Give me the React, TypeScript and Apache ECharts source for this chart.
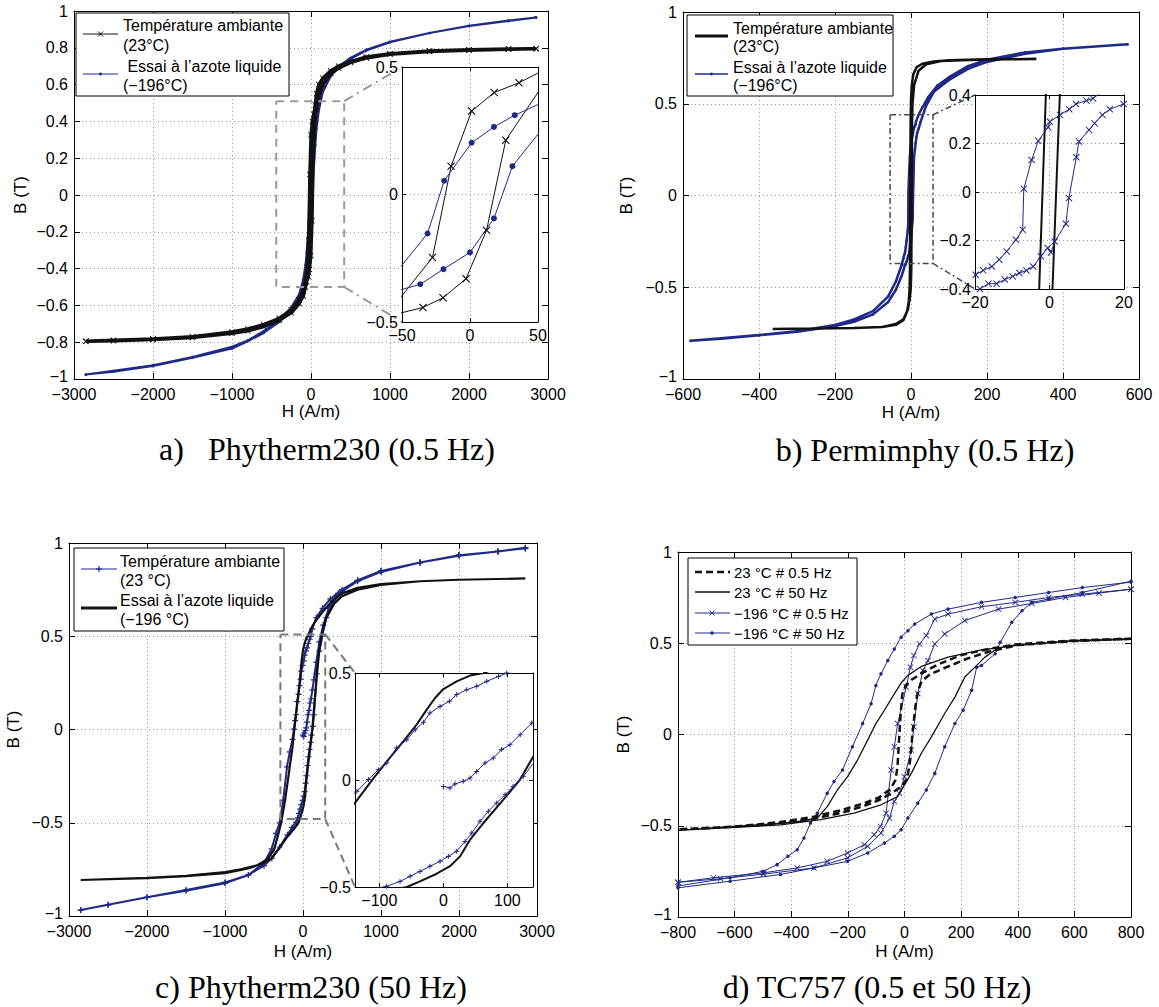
import React, { useEffect, useRef } from 'react';
import * as echarts from 'echarts';

type P = [number, number];

// ---------------- a) Phytherm230 (0.5 Hz) ----------------
const aAmbDown: P[] = [[2850,0.795],[2500,0.793],[2000,0.789],[1500,0.782],[1000,0.768],[700,0.75],[500,0.725],[350,0.7],[250,0.675],[150,0.635],[100,0.6],[70,0.55],[55,0.49],[36,0.438],[17.8,0.4],[1.2,0.327],[-13.9,0.111],[-27.6,-0.247],[-55,-0.43],[-70,-0.47],[-100,-0.52],[-150,-0.57],[-250,-0.625],[-400,-0.67],[-600,-0.705],[-800,-0.728],[-1000,-0.745],[-1500,-0.77],[-2000,-0.783],[-2500,-0.79],[-2850,-0.795]];
const aAmbUp: P[] = [[-2850,-0.795],[-2500,-0.792],[-2000,-0.786],[-1500,-0.775],[-1000,-0.752],[-800,-0.738],[-600,-0.715],[-400,-0.68],[-250,-0.64],[-150,-0.59],[-100,-0.55],[-70,-0.5],[-55,-0.47],[-34.6,-0.443],[-19.8,-0.405],[-2.9,-0.33],[12.2,-0.14],[26.3,0.213],[55,0.44],[70,0.48],[100,0.54],[150,0.6],[250,0.66],[350,0.69],[500,0.72],[700,0.745],[1000,0.765],[1500,0.78],[2000,0.787],[2500,0.792],[2850,0.795]];
const aAzoteDown: P[] = [[2850,0.965],[2500,0.948],[2000,0.92],[1500,0.88],[1000,0.833],[700,0.79],[500,0.745],[350,0.7],[250,0.655],[150,0.59],[100,0.51],[70,0.42],[55,0.365],[32.9,0.311],[17.6,0.265],[1.2,0.203],[-19,0.054],[-31.2,-0.153],[-55,-0.31],[-70,-0.38],[-100,-0.46],[-150,-0.54],[-250,-0.61],[-400,-0.68],[-600,-0.74],[-800,-0.79],[-1000,-0.825],[-1500,-0.88],[-2000,-0.925],[-2500,-0.955],[-2850,-0.975]];
const aAzoteUp: P[] = [[-2850,-0.978],[-2500,-0.96],[-2000,-0.93],[-1500,-0.885],[-1000,-0.835],[-800,-0.795],[-600,-0.75],[-400,-0.69],[-250,-0.625],[-150,-0.56],[-100,-0.5],[-70,-0.43],[-55,-0.38],[-36.6,-0.352],[-19.5,-0.293],[0,-0.227],[17.6,-0.094],[31.2,0.111],[55,0.27],[70,0.36],[100,0.46],[150,0.56],[250,0.645],[350,0.695],[500,0.74],[700,0.785],[1000,0.83],[1500,0.88],[2000,0.918],[2500,0.945],[2850,0.965]];

// ---------------- b) Permimphy (0.5 Hz) ----------------
const bAmbDown: P[] = [[330,0.744],[200,0.742],[100,0.737],[60,0.73],[30,0.718],[15,0.7],[6,0.66],[2,0.6],[0,0.52],[-0.98,0.4],[-2.77,-0.4],[-3.5,-0.5],[-6,-0.58],[-10,-0.63],[-20,-0.675],[-40,-0.7],[-76,-0.717],[-150,-0.722],[-250,-0.725],[-364,-0.727]];
const bAmbUp: P[] = [[-364,-0.727],[-250,-0.725],[-150,-0.722],[-76,-0.717],[-40,-0.705],[-20,-0.68],[-8,-0.62],[-3,-0.56],[-0.5,-0.5],[0.8,-0.4],[2.77,0.4],[4,0.5],[8,0.6],[20,0.68],[40,0.715],[79,0.733],[150,0.738],[250,0.742],[330,0.744]];
const bAzoteDown: P[] = [[570,0.824],[400,0.8],[300,0.78],[200,0.74],[150,0.705],[100,0.645],[70,0.6],[45,0.535],[30,0.48],[20,0.44],[13.3,0.404],[11.7,0.386],[9.9,0.377],[7.1,0.363],[5.3,0.341],[2.8,0.318],[0.1,0.29],[-0.4,0.267],[-3,0.211],[-4.8,0.132],[-6.9,0.013],[-7.2,-0.156],[-9,-0.197],[-11.5,-0.245],[-13.5,-0.279],[-15.5,-0.307],[-17.8,-0.323],[-19.8,-0.341],[-25,-0.38],[-40,-0.47],[-60,-0.55],[-100,-0.63],[-150,-0.675],[-200,-0.705],[-300,-0.74],[-400,-0.76],[-500,-0.778],[-580,-0.792]];
const bAzoteUp: P[] = [[-580,-0.792],[-500,-0.78],[-400,-0.762],[-300,-0.742],[-200,-0.712],[-150,-0.688],[-100,-0.648],[-60,-0.58],[-40,-0.515],[-25,-0.44],[-18.7,-0.4],[-16.4,-0.378],[-14.2,-0.378],[-12,-0.361],[-9.9,-0.348],[-8.1,-0.334],[-6.2,-0.324],[-4.4,-0.307],[-2.3,-0.265],[-0.5,-0.231],[0.4,-0.249],[1.4,-0.204],[4.4,-0.131],[5.2,-0.025],[7.2,0.143],[7.9,0.208],[10.6,0.256],[12.1,0.283],[14.2,0.318],[16.2,0.341],[19.9,0.363],[25,0.4],[40,0.49],[60,0.565],[100,0.63],[150,0.69],[200,0.728],[300,0.772],[400,0.8],[570,0.824]];

// ---------------- c) Phytherm230 (50 Hz) ----------------
const cAzoteDown: P[] = [[2850,0.81],[2000,0.803],[1500,0.795],[1000,0.78],[700,0.76],[500,0.73],[385,0.694],[250,0.63],[150,0.575],[100,0.54],[62.5,0.5],[41.7,0.488],[20.8,0.461],[0,0.425],[-13,0.383],[-26,0.329],[-41.7,0.259],[-62.5,0.181],[-86,0.095],[-109,0.009],[-138,-0.107],[-170,-0.2],[-230,-0.38],[-280,-0.5],[-314,-0.557],[-372,-0.646],[-466,-0.7],[-600,-0.73],[-800,-0.75],[-1000,-0.765],[-1500,-0.785],[-2000,-0.795],[-2850,-0.807]];
const cAzoteUp: P[] = [[-2850,-0.807],[-2000,-0.797],[-1500,-0.787],[-1000,-0.77],[-700,-0.745],[-500,-0.715],[-400,-0.69],[-300,-0.635],[-200,-0.575],[-120,-0.535],[-57,-0.5],[-36.5,-0.474],[-10.4,-0.438],[10.4,-0.403],[26,-0.357],[41.7,-0.279],[62.5,-0.201],[93.8,-0.092],[119.8,0.002],[140.6,0.111],[170,0.25],[200,0.4],[250,0.53],[300,0.6],[400,0.675],[500,0.715],[700,0.75],[1000,0.775],[1500,0.795],[2000,0.803],[2850,0.81]];
const cAmbInit: P[] = [[0,-0.03],[10.4,-0.037],[18,-0.019],[31,-0.006],[41.7,0.009],[52,0.04],[65,0.079],[78,0.103],[91,0.142],[104,0.165],[120,0.212],[138,0.266],[170,0.36],[210,0.47],[260,0.56],[330,0.65],[450,0.73],[700,0.8],[1000,0.85],[1500,0.895],[2000,0.935],[2500,0.955],[2850,0.972]];
const cAmbDown: P[] = [[2850,0.97],[2500,0.955],[2000,0.935],[1500,0.895],[1000,0.848],[700,0.8],[500,0.75],[350,0.7],[250,0.65],[170,0.6],[120,0.54],[99,0.5],[86,0.484],[67.7,0.461],[52,0.438],[36.5,0.422],[20.8,0.399],[9.4,0.368],[-5.2,0.344],[-21,0.313],[-31,0.27],[-44,0.235],[-57,0.188],[-73,0.15],[-88.5,0.079],[-101.6,0.048],[-117,0.002],[-135,-0.053],[-170,-0.12],[-205,-0.2],[-254,-0.38],[-300,-0.5],[-346,-0.557],[-400,-0.64],[-500,-0.715],[-700,-0.78],[-1000,-0.825],[-1500,-0.865],[-2000,-0.9],[-2500,-0.94],[-2850,-0.968]];
const cAmbUp: P[] = [[-2850,-0.968],[-2500,-0.94],[-2000,-0.9],[-1500,-0.86],[-1000,-0.82],[-700,-0.78],[-500,-0.73],[-400,-0.69],[-300,-0.63],[-200,-0.565],[-140,-0.525],[-88.5,-0.497],[-67.7,-0.474],[-52,-0.45],[-36.5,-0.427],[-21,-0.403],[-5.2,-0.38],[7.8,-0.357],[20.8,-0.333],[33.9,-0.287],[44.3,-0.248],[57.3,-0.193],[70.3,-0.146],[83.3,-0.107],[96.4,-0.069],[109,-0.03],[125,0.017],[140.6,0.079],[175,0.3],[210,0.42],[246,0.5],[300,0.6],[400,0.69],[500,0.74],[700,0.795],[1000,0.845],[1500,0.895],[2000,0.932],[2500,0.955],[2850,0.975]];

// ---------------- d) TC757 (0.5 et 50 Hz) ----------------
const dAmb05Down: P[] = [[800,0.525],[600,0.515],[400,0.495],[300,0.47],[200,0.435],[120,0.385],[60,0.335],[25,0.3],[5,0.27],[-8,0.22],[-14,0.1],[-20,-0.05],[-25,-0.18],[-32,-0.25],[-50,-0.3],[-90,-0.345],[-150,-0.38],[-225,-0.415],[-320,-0.45],[-440,-0.48],[-600,-0.505],[-800,-0.52]];
const dAmb05Up: P[] = [[-800,-0.52],[-600,-0.505],[-440,-0.485],[-320,-0.462],[-225,-0.43],[-150,-0.395],[-90,-0.36],[-45,-0.32],[-10,-0.285],[10,-0.24],[20,-0.14],[28,0],[38,0.15],[48,0.24],[60,0.29],[90,0.33],[150,0.37],[220,0.415],[300,0.455],[400,0.49],[600,0.512],[800,0.525]];
const dAmb50Down: P[] = [[800,0.522],[600,0.515],[391,0.487],[272,0.464],[154,0.424],[59,0.373],[12,0.324],[-12,0.282],[-35.5,0.224],[-71,0.133],[-101,0.06],[-130,-0.031],[-166,-0.14],[-201,-0.231],[-237,-0.304],[-273,-0.395],[-308,-0.458],[-370,-0.475],[-438,-0.487],[-616,-0.505],[-800,-0.525]];
const dAmb50Up: P[] = [[-800,-0.525],[-616,-0.51],[-438,-0.495],[-296,-0.467],[-178,-0.431],[-83,-0.385],[-24,-0.34],[0,-0.276],[24,-0.213],[59,-0.104],[95,-0.013],[142,0.115],[178,0.205],[213,0.315],[249,0.369],[284,0.424],[332,0.475],[391,0.491],[600,0.512],[800,0.522]];
const dAz05Down: P[] = [[800,0.796],[628,0.769],[509,0.751],[391,0.724],[272,0.7],[154,0.66],[107,0.633],[77,0.542],[53,0.496],[33,0.433],[21,0.369],[6,0.26],[-24,0.06],[-36,-0.067],[-47,-0.195],[-57,-0.322],[-65,-0.431],[-85,-0.504],[-107,-0.549],[-142,-0.604],[-201,-0.649],[-273,-0.695],[-379,-0.731],[-498,-0.758],[-675,-0.785],[-800,-0.81]];
const dAz05Up: P[] = [[-800,-0.81],[-650,-0.79],[-498,-0.765],[-320,-0.731],[-201,-0.676],[-130,-0.613],[-83,-0.54],[-53,-0.458],[-36,-0.367],[-18,-0.322],[0,-0.231],[24,-0.085],[33,0.042],[47,0.224],[65,0.351],[83,0.405],[107,0.496],[142,0.551],[213,0.624],[332,0.687],[450,0.718],[569,0.751],[687,0.775],[800,0.796]];
const dAz50Down: P[] = [[800,0.835],[628,0.805],[509,0.778],[391,0.751],[272,0.724],[154,0.687],[95,0.66],[36,0.605],[12,0.569],[-12,0.533],[-36,0.469],[-59,0.405],[-83,0.333],[-101,0.269],[-118,0.169],[-148,0.06],[-184,-0.067],[-219,-0.195],[-249,-0.258],[-273,-0.322],[-308,-0.431],[-332,-0.485],[-355,-0.567],[-379,-0.631],[-412,-0.667],[-450,-0.713],[-498,-0.749],[-616,-0.785],[-800,-0.83]];
const dAz50Up: P[] = [[-800,-0.84],[-616,-0.804],[-438,-0.767],[-320,-0.731],[-201,-0.695],[-130,-0.649],[-71,-0.595],[-36,-0.558],[-12,-0.522],[12,-0.458],[47,-0.376],[77,-0.304],[107,-0.213],[142,-0.067],[178,0.06],[207,0.133],[237,0.242],[255,0.369],[272,0.378],[320,0.442],[338,0.505],[379,0.615],[415,0.678],[450,0.724],[509,0.742],[628,0.778],[800,0.84]];

// axis ranges [min, max, interval]
const rangeMainA = { x: [-3000, 3000, 1000], y: [-1, 1, 0.2] };
const rangeMainB = { x: [-600, 600, 200], y: [-1, 1, 0.5] };
const rangeMainC = { x: [-3000, 3000, 1000], y: [-1, 1, 0.5] };
const rangeMainD = { x: [-800, 800, 200], y: [-1, 1, 0.5] };
const rangeInsetA = { x: [-50, 50, 50], y: [-0.5, 0.5, 0.5] };
const rangeInsetB = { x: [-20, 20, 20], y: [-0.4, 0.4, 0.2] };
const rangeInsetC = { x: [-138, 140, 0], y: [-0.5, 0.5, 0.5] };
// zoom rectangles drawn on main plots [xmin, xmax, ymin, ymax]
const zoomBoxA = [-440, 420, -0.5, 0.51];
const zoomBoxB = [-55, 58, -0.37, 0.44];
const zoomBoxC = [-290, 285, -0.48, 0.51];

const captions = ['a)\u00a0\u00a0 Phytherm230 (0.5 Hz)', 'b) Permimphy (0.5 Hz)', 'c) Phytherm230 (50 Hz)', 'd) TC757 (0.5 et 50 Hz)'];

const FONT = '"Liberation Sans", Arial, Helvetica, sans-serif';
const SERIF = '"Liberation Serif", "Times New Roman", serif';
const BLUE = '#1f2a86';
const BLACK = '#111111';
const X_SYM = 'path://M0,1L1,0L5,4L9,0L10,1L6,5L10,9L9,10L5,6L1,10L0,9L4,5Z';
const PLUS_SYM = 'path://M4,0H6V4H10V6H6V10H4V6H0V4H4Z';

const fmtNum = (v: number) => {
  const r = Math.round(v * 1000) / 1000;
  return r < 0 ? '\u2212' + String(-r) : String(r);
};

const grids = [
  { left: 74, top: 11, width: 474, height: 368 },
  { left: 683, top: 12, width: 456, height: 367 },
  { left: 69, top: 543, width: 468, height: 373 },
  { left: 678, top: 552, width: 453, height: 365 },
  { left: 402, top: 67, width: 136, height: 255 },
  { left: 975, top: 95, width: 149, height: 194 },
  { left: 355, top: 673, width: 178, height: 214 },
];

function scaleOpt(r: number[]) {
  const o: any = { min: r[0], max: r[1] };
  if (r[2] > 0) o.interval = r[2];
  else o.splitNumber = 2;
  return o;
}

function buildAxes(g: number, rng: any, main: boolean, names: { x: number; y: number } | null) {
  const z = main ? 1 : 11;
  const base = (r: number[], pos: string, labels: boolean, kind: string) => {
    const isMainY = main && kind === 'y';
    return {
      type: 'value',
      gridIndex: g,
      position: pos,
      ...scaleOpt(r),
      z,
      axisLine: { show: true, onZero: false, lineStyle: { color: '#000', width: 1 } },
      axisTick: { show: true, inside: true, length: main ? 6 : 4, lineStyle: { color: '#000', width: 1 } },
      axisLabel: {
        show: labels,
        color: '#000',
        fontSize: 16,
        fontFamily: FONT,
        margin: main ? (kind === 'x' ? 7 : 6) : kind === 'x' ? 5 : 4,
        formatter: (v: number) => (isMainY && Math.abs(v - r[0]) < 1e-9 ? '{m|' + fmtNum(v) + '}' : fmtNum(v)),
        rich: { m: { fontSize: 16, fontFamily: FONT, color: '#000', padding: [0, 0, 5, 0] } },
        showMinLabel: r[2] > 0 ? true : false,
        showMaxLabel: r[2] > 0 ? true : false,
      },
      splitLine: { show: labels, lineStyle: { color: '#9a9a9a', width: 1, type: [1, 3] } },
    };
  };
  const xb: any = base(rng.x, 'bottom', true, 'x');
  const xt: any = base(rng.x, 'top', false, 'x');
  const yl: any = base(rng.y, 'left', true, 'y');
  const yr: any = base(rng.y, 'right', false, 'y');
  if (names) {
    xb.name = 'H (A/m)';
    xb.nameLocation = 'middle';
    xb.nameGap = names.x;
    xb.nameTextStyle = { fontSize: 17, fontFamily: FONT, color: '#000' };
    yl.name = 'B (T)';
    yl.nameLocation = 'middle';
    yl.nameGap = names.y;
    yl.nameTextStyle = { fontSize: 17, fontFamily: FONT, color: '#000' };
  }
  return { x: [xb, xt], y: [yl, yr] };
}

function line(g: number, data: P[], color: string, width: number, symbol: string | null, size: number, z: number, dash?: any) {
  return {
    type: 'line',
    xAxisIndex: 2 * g,
    yAxisIndex: 2 * g,
    data,
    symbol: symbol || 'none',
    symbolSize: size,
    showSymbol: !!symbol,
    lineStyle: { color, width, type: dash || 'solid' },
    itemStyle: { color },
    z,
    clip: true,
    silent: true,
    animation: false,
  };
}

function buildOption() {
  const xAxis: any[] = [];
  const yAxis: any[] = [];
  const add = (g: number, rng: any, main: boolean, names: any) => {
    const a = buildAxes(g, rng, main, names);
    xAxis.push(...a.x);
    yAxis.push(...a.y);
  };
  add(0, rangeMainA, true, { x: 24, y: 45 });
  add(1, rangeMainB, true, { x: 25, y: 48 });
  add(2, rangeMainC, true, { x: 27, y: 47 });
  add(3, rangeMainD, true, { x: 26, y: 46 });
  add(4, rangeInsetA, false, null);
  add(5, rangeInsetB, false, null);
  add(6, rangeInsetC, false, null);

  const aAmb = [...aAmbDown, ...aAmbUp];
  const aAz = [...aAzoteDown, ...aAzoteUp];
  const bAmb = [...bAmbDown, ...bAmbUp];
  const bAz = [...bAzoteDown, ...bAzoteUp];
  const cAz = [...cAzoteDown, ...cAzoteUp];
  const cAmb = [...cAmbInit, ...cAmbDown, ...cAmbUp];

  const series: any[] = [
    // a main
    line(0, aAz, BLUE, 2, 'circle', 2.5, 2),
    line(0, aAmb, BLACK, 3.5, X_SYM, 6, 3),
    // b main
    line(1, bAz, BLUE, 2.5, 'circle', 2.5, 2),
    line(1, bAmb, BLACK, 2.5, null, 0, 3),
    // c main
    line(2, cAmb, BLUE, 2, PLUS_SYM, 6, 2),
    line(2, cAz, BLACK, 2.2, null, 0, 3),
    // d main
    line(3, [...dAz50Down, ...dAz50Up], BLUE, 1, 'circle', 3.5, 2),
    line(3, [...dAz05Down, ...dAz05Up], BLUE, 1, X_SYM, 6, 2),
    line(3, [...dAmb50Down, ...dAmb50Up], BLACK, 1.3, null, 0, 3),
    line(3, [...dAmb05Down, ...dAmb05Up], BLACK, 2.5, null, 0, 3, [7, 4]),
    // insets
    line(4, aAmb, BLACK, 1, X_SYM, 8, 12),
    line(4, aAz, BLUE, 1, 'circle', 6, 12),
    line(5, bAmb, BLACK, 2, null, 0, 12),
    line(5, bAz, BLUE, 1, X_SYM, 7, 12),
    line(6, cAz, BLACK, 2, null, 0, 12),
    line(6, cAmb, BLUE, 1, PLUS_SYM, 5, 12),
  ];

  return {
    animation: false,
    backgroundColor: '#fff',
    grid: grids.map((g, i) =>
      i < 4
        ? { ...g, containLabel: false, show: false, z: 0 }
        : { ...g, containLabel: false, show: true, backgroundColor: '#fff', borderWidth: 0, z: 10 }
    ),
    xAxis,
    yAxis,
    series,
  };
}

function txt(x: number, y: number, text: string, size = 16, family = FONT, align = 'left') {
  return { type: 'text', z: 21, x, y, style: { text, fill: '#000', fontSize: size, fontFamily: family, align, verticalAlign: 'middle' } };
}
function seg(x1: number, y1: number, x2: number, y2: number, stroke: string, w: number, dash?: number[]) {
  return { type: 'line', z: 21, shape: { x1, y1, x2, y2 }, style: { stroke, lineWidth: w, lineDash: dash || null } };
}
function rect(x: number, y: number, w: number, h: number) {
  return { type: 'rect', z: 20, shape: { x, y, width: w, height: h }, style: { fill: '#fff', stroke: '#000', lineWidth: 1 } };
}
function xMark(cx: number, cy: number, s: number, c: string) {
  return [seg(cx - s, cy - s, cx + s, cy + s, c, 1), seg(cx - s, cy + s, cx + s, cy - s, c, 1)];
}
function dot(cx: number, cy: number, r: number, c: string) {
  return { type: 'circle', z: 22, shape: { cx, cy, r }, style: { fill: c } };
}

function buildGraphics(chart: any) {
  const px = (g: number, p: number[]) => chart.convertToPixel({ gridIndex: g }, p) as number[];
  const els: any[] = [];

  const zoom = (g: number, ig: number, box: number[], irng: any, stroke: string, w: number, boxDash: number[], connDash: number[]) => {
    const [x0, x1, y0, y1] = box;
    const pts = [px(g, [x0, y1]), px(g, [x1, y1]), px(g, [x1, y0]), px(g, [x0, y0]), px(g, [x0, y1])];
    els.push({ type: 'polyline', z: 5, shape: { points: pts }, style: { stroke, lineWidth: w, lineDash: boxDash, fill: null } });
    const it = px(ig, [irng.x[0], irng.y[1]]);
    const ib = px(ig, [irng.x[0], irng.y[0]]);
    els.push({ type: 'line', z: 5, shape: { x1: pts[1][0], y1: pts[1][1], x2: it[0], y2: it[1] }, style: { stroke, lineWidth: w, lineDash: connDash } });
    els.push({ type: 'line', z: 5, shape: { x1: pts[2][0], y1: pts[2][1], x2: ib[0], y2: ib[1] }, style: { stroke, lineWidth: w, lineDash: connDash } });
  };
  zoom(0, 4, zoomBoxA, rangeInsetA, '#9a9a9a', 2, [8, 6], [10, 5, 2, 5]);
  zoom(1, 5, zoomBoxB, rangeInsetB, '#4a4a4a', 1.5, [6, 3, 2, 3], [6, 3, 2, 3]);
  zoom(2, 6, zoomBoxC, rangeInsetC, '#7a7a7a', 2, [8, 5], [8, 5]);

  // legend a
  els.push(rect(76, 13, 213, 83));
  els.push(seg(83, 34, 118, 34, BLACK, 1), ...xMark(100.5, 34, 2.5, BLACK));
  els.push(txt(123, 25, 'Température ambiante'), txt(123, 45, '(23°C)'));
  els.push(seg(83, 74, 118, 74, BLUE, 1), dot(100.5, 74, 1.5, BLUE));
  els.push(txt(123, 66, ' Essai à l’azote liquide'), txt(123, 85, '(\u2212196°C)'));
  // legend b
  els.push(rect(687, 15, 206, 81));
  els.push(seg(695, 36, 728, 36, BLACK, 3));
  els.push(txt(733, 28, 'Température ambiante'), txt(733, 46, '(23°C)'));
  els.push(seg(695, 74, 728, 74, BLUE, 1.5), dot(711.5, 74, 1.5, BLUE));
  els.push(txt(733, 67, 'Essai à l’azote liquide'), txt(733, 85, '(\u2212196°C)'));
  // legend c
  els.push(rect(74, 548, 210, 83));
  els.push(seg(81, 569, 117, 569, BLUE, 1), seg(96, 569, 102, 569, BLUE, 1.2), seg(99, 566, 99, 572, BLUE, 1.2));
  els.push(txt(120, 561, 'Température ambiante'), txt(120, 580, '(23 °C)'));
  els.push(seg(81, 608, 117, 608, BLACK, 3));
  els.push(txt(120, 600, 'Essai à l’azote liquide'), txt(120, 619, '(\u2212196 °C)'));
  // legend d
  els.push(rect(688, 558, 169, 87));
  els.push(seg(695, 572, 730, 572, BLACK, 2.5, [7, 4]), txt(734, 572, '23 °C # 0.5 Hz', 15));
  els.push(seg(695, 592, 730, 592, BLACK, 1.3), txt(734, 592, '23 °C # 50 Hz', 15));
  els.push(seg(695, 613, 730, 613, BLUE, 1), ...xMark(712, 613, 2.5, BLUE), txt(734, 613, '\u2212196 °C # 0.5 Hz', 15));
  els.push(seg(695, 633, 730, 633, BLUE, 1), dot(712, 633, 1.7, BLUE), txt(734, 633, '\u2212196 °C # 50 Hz', 15));

  // captions
  els.push(txt(327, 449, captions[0], 32, SERIF, 'center'));
  els.push(txt(925, 450, captions[1], 32, SERIF, 'center'));
  els.push(txt(311, 987, captions[2], 32, SERIF, 'center'));
  els.push(txt(877, 987, captions[3], 32, SERIF, 'center'));
  return els;
}

export default function App() {
  const ref = useRef<HTMLDivElement>(null);
  useEffect(() => {
    const chart = echarts.init(ref.current!, undefined, { renderer: 'svg', width: 1159, height: 1007 });
    chart.setOption(buildOption() as any);
    chart.setOption({ graphic: buildGraphics(chart) } as any);
    return () => chart.dispose();
  }, []);
  return <div ref={ref} style={{ position: 'fixed', left: 0, top: 0, width: 1159, height: 1007, background: '#fff' }} />;
}
